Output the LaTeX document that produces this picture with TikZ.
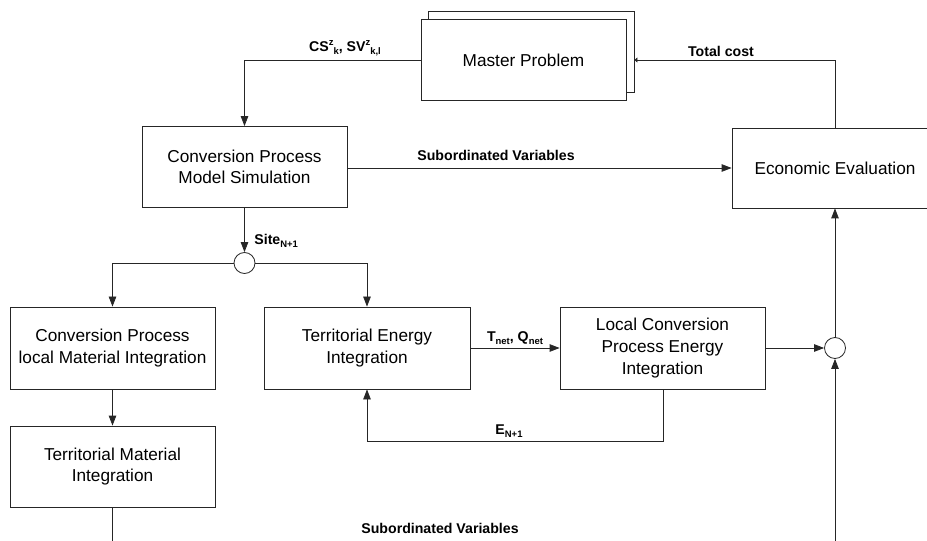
\documentclass[tikz,border=0pt]{standalone}
\usepackage{fontspec}
\setmainfont{Liberation Sans}
\usetikzlibrary{arrows.meta}

% raised / lowered small indices for the bold labels
\newcommand{\upidx}[1]{\raisebox{0.8ex}{\fontsize{9.5}{10}\selectfont\bfseries #1}}
\newcommand{\lowidx}[1]{\raisebox{-0.45ex}{\fontsize{9.5}{10}\selectfont\bfseries #1}}

\begin{document}
\begin{tikzpicture}[x=1bp,y=-1bp,
  line width=0.8bp,
  conn/.style={draw=black!85},
  procbox/.style={draw=black!85, fill=white, rectangle, minimum width=205bp,
    minimum height=81bp, inner sep=0pt, align=center,
    font=\fontsize{17.3}{21.7}\selectfont},
  junction/.style={draw=black!85, fill=white, circle, minimum size=21bp, inner sep=0pt},
  arr/.style={conn, -{Triangle[length=10bp,width=7.5bp]}},
  smallarr/.style={conn, -{Triangle[length=3bp,width=5bp]}},
  lbl/.style={font=\fontsize{14.2}{16}\selectfont\bfseries, inner sep=0pt}
]
\useasboundingbox (0,0) rectangle (927,541);
\clip (0,0) rectangle (927,541);

% boxes
\node[procbox, minimum width=206bp] (mpback) at (531,51.5) {};
\node[procbox] (mp) at (523.5,60) {Master Problem};
\node[procbox] (cpms) at (244.5,167) {Conversion Process\\Model Simulation};
\node[procbox, minimum width=206bp, minimum height=80bp] (econ) at (835,168) {Economic Evaluation};
\node[junction] (j1) at (244.5,263) {};
\node[procbox, minimum height=82bp] (cplmi) at (112.5,348) {Conversion Process\\local Material Integration};
\node[procbox] (tmi) at (112.5,466.5) {Territorial Material\\Integration};
\node[procbox, minimum width=206bp, minimum height=82bp] (tei) at (367,348) {Territorial Energy\\Integration};
\node[procbox, minimum height=82bp] (lcpei) at (662.5,348) {Local Conversion\\Process Energy\\Integration};
\node[junction] (j2) at (835,348) {};

\coordinate (bl) at (112.5,545);
\coordinate (br) at (835,545);
\coordinate (eloop) at (663,441);

% connectors
\draw[arr] (mp.west) -| (cpms.north);
\draw[smallarr] (econ.north) |- (mpback.east |- mp.east);
\draw[arr] (cpms.east |- econ.west) -- (econ.west);
\draw[arr] (cpms.south) -- (j1.north);
\draw[arr] (j1.west) -| (cplmi.north);
\draw[arr] (j1.east) -| (tei.north);
\draw[arr] (cplmi.south) -- (tmi.north);
\draw[conn] (tmi.south) -- (bl);
\draw[arr] (tei.east) -- (lcpei.west);
\draw[arr] (lcpei.south -| eloop) -- (eloop) -| (tei.south);
\draw[arr] (lcpei.east) -- (j2.west);
\draw[arr] (j2.north) -- (econ.south);
\draw[arr] (br) -- (j2.south);

% labels
\node[lbl] (lcs) at (345,48) {CS\upidx{z}\lowidx{k}, SV\upidx{z}\lowidx{k,l}};
\node[lbl] (ltc) at (721,51) {Total cost};
\node[lbl] (lsv1) at (496,155) {Subordinated Variables};
\node[lbl, anchor=west] (lsite) at (254,241) {Site\lowidx{N+1}};
\node[lbl] (ltq) at (515,338) {T\lowidx{net}, Q\lowidx{net}};
\node[lbl] (len) at (509,431) {E\lowidx{N+1}};
\node[lbl] (lsv2) at (440,528) {Subordinated Variables};
\end{tikzpicture}
\end{document}
